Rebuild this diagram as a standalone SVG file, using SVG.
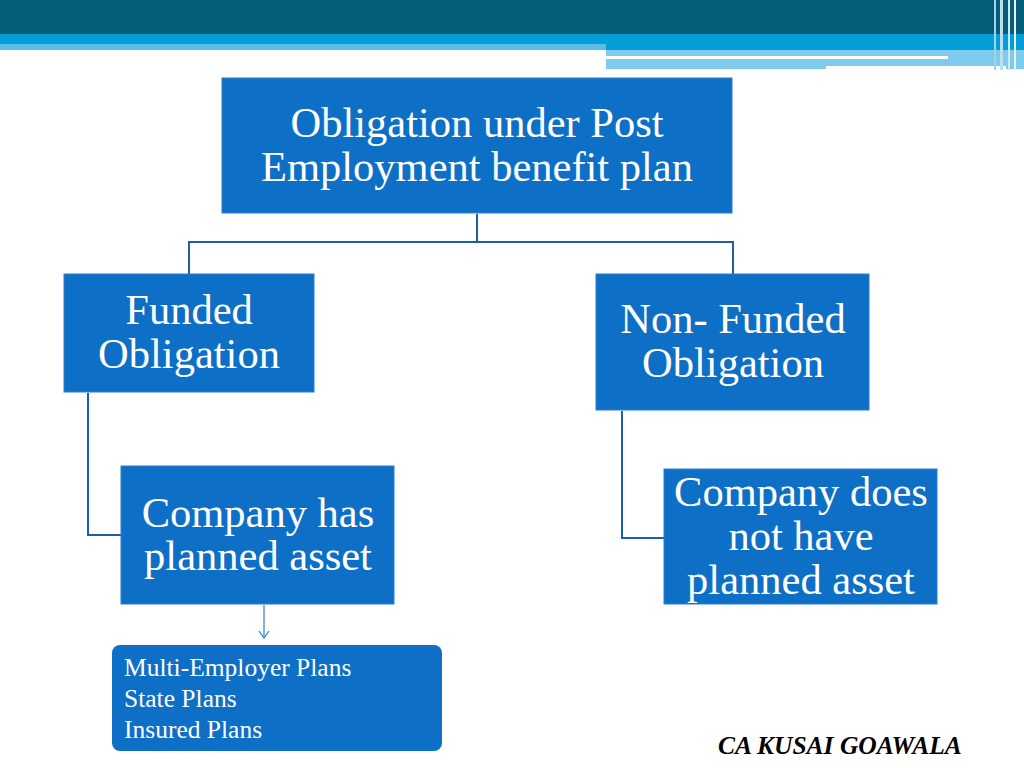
<svg xmlns="http://www.w3.org/2000/svg" width="1024" height="768" viewBox="0 0 1024 768">
<style>
.box{fill:#0e6fc6;stroke:#2a7fd0;stroke-width:1}
.t{font-family:"Liberation Serif",serif;fill:#fff;text-anchor:middle;font-size:42.5px}
.s{font-family:"Liberation Serif",serif;fill:#fff;font-size:25.5px}
.c{fill:none;stroke:#1a5fa8;stroke-width:2}
</style>
<rect width="1024" height="768" fill="#fff"/>
<g id="banner">
<rect x="0" y="0" width="1024" height="34" fill="#055e76"/>
<rect x="0" y="34" width="1024" height="16" fill="#039ed8"/>
<rect x="0" y="44" width="606" height="6" fill="#5bbde6"/>
<rect x="606" y="50" width="418" height="19" fill="#7fcbee"/>
<rect x="606" y="56" width="342" height="3" fill="#fff"/>
<rect x="826" y="66" width="180" height="4" fill="#fff"/>
<rect x="994" y="0" width="2" height="70" fill="#9fd3e6"/>
<rect x="1000" y="0" width="3" height="70" fill="#b8dfee"/>
<rect x="1008" y="0" width="2" height="70" fill="#cfe9f3"/>
<rect x="1014" y="0" width="2" height="70" fill="#e2f2f8"/>
</g>
<g id="connectors">
<path class="c" d="M477 214V242M189 274V242H733V274"/>
<path class="c" d="M88 393V535H121"/>
<path class="c" d="M622 411V538H664"/>
<path d="M264 605V637" stroke="#2a7fd0" stroke-width="1.2" fill="none"/>
<path d="M259 631L264 638L269 631" stroke="#2a7fd0" stroke-width="1.2" fill="none"/>
</g>
<g id="n1"><rect class="box" x="222" y="78" width="510" height="135"/>
<text class="t" x="477" y="137">Obligation under Post</text>
<text class="t" x="477" y="181">Employment benefit plan</text></g>
<g id="n2"><rect class="box" x="64" y="274" width="250" height="118"/>
<text class="t" x="189" y="324">Funded</text>
<text class="t" x="189" y="368">Obligation</text></g>
<g id="n3"><rect class="box" x="596" y="274" width="273" height="136"/>
<text class="t" x="733" y="333">Non- Funded</text>
<text class="t" x="733" y="377">Obligation</text></g>
<g id="n4"><rect class="box" x="121" y="466" width="273" height="138"/>
<text class="t" x="258" y="527">Company has</text>
<text class="t" x="258" y="570">planned asset</text></g>
<g id="n5"><rect class="box" x="664" y="469" width="273" height="135"/>
<text class="t" x="801" y="506">Company does</text>
<text class="t" x="801" y="550">not have</text>
<text class="t" x="801" y="594">planned asset</text></g>
<g id="n6"><rect x="112" y="645" width="330" height="106" rx="8" fill="#0e6fc6"/>
<text class="s" x="124" y="676">Multi-Employer Plans</text>
<text class="s" x="124" y="707">State Plans</text>
<text class="s" x="124" y="738">Insured Plans</text></g>
<text font-family="Liberation Serif,serif" font-size="25.5" font-weight="bold" font-style="italic" fill="#000" x="718" y="754">CA KUSAI GOAWALA</text>
</svg>
